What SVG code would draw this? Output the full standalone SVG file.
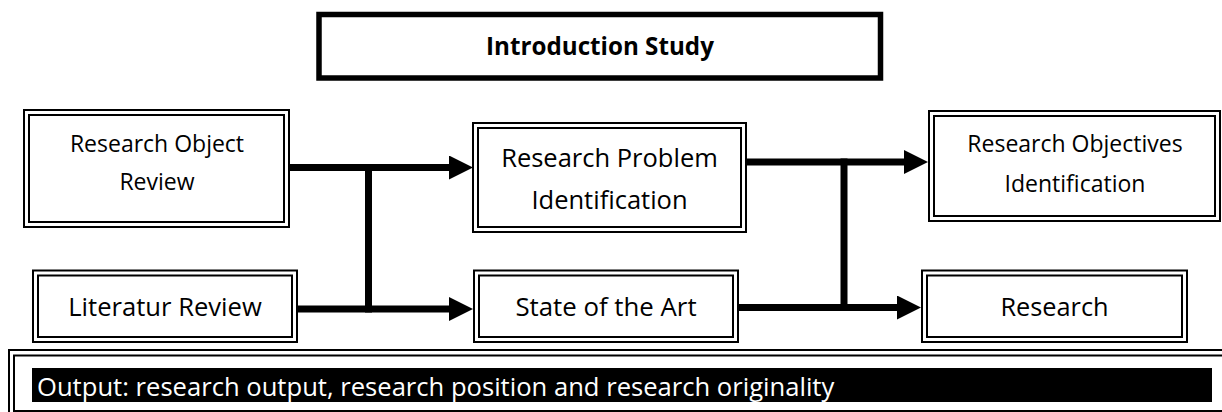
<svg xmlns="http://www.w3.org/2000/svg" width="1222" height="412" viewBox="0 0 1222 412">
<style>
.o{fill:#fff;stroke:#000;stroke-width:2}
.i{fill:none;stroke:#000;stroke-width:2}
.t{font-family:"Open Sans","Liberation Sans",sans-serif;fill:#000;text-anchor:middle}
.c{fill:none;stroke:#000;stroke-width:7}
</style>
<defs>
<marker id="ah" markerUnits="userSpaceOnUse" markerWidth="24" markerHeight="24" refX="0" refY="12" orient="auto" viewBox="0 0 24 24">
<path d="M0,0 L24,12 L0,24 z" fill="#000"/>
</marker>
</defs>
<rect width="1222" height="412" fill="#fff"/>

<g id="intro">
<rect x="319" y="14.5" width="561.5" height="63.5" fill="#fff" stroke="#000" stroke-width="5.5"/>
<text class="t" x="600" y="55" font-size="24.2" font-weight="bold">Introduction Study</text>
</g>

<g id="research-object-review">
<rect class="o" x="24" y="110" width="265" height="117"/>
<rect class="i" x="29" y="115" width="255" height="107"/>
<text class="t" x="157" y="152" font-size="23">Research Object</text>
<text class="t" x="157" y="190" font-size="23">Review</text>
</g>

<g id="research-problem-identification">
<rect class="o" x="473" y="123" width="273" height="109"/>
<rect class="i" x="478" y="128" width="263" height="99"/>
<text class="t" x="609.5" y="167" font-size="25.5">Research Problem</text>
<text class="t" x="609.5" y="209" font-size="25.5">Identification</text>
</g>

<g id="research-objectives-identification">
<rect class="o" x="929" y="111" width="291" height="110"/>
<rect class="i" x="934" y="116" width="281" height="100"/>
<text class="t" x="1075" y="152" font-size="23">Research Objectives</text>
<text class="t" x="1075" y="192" font-size="23">Identification</text>
</g>

<g id="literatur-review">
<rect class="o" x="33" y="270.5" width="264" height="71.5"/>
<rect class="i" x="38" y="275.5" width="254" height="61.5"/>
<text class="t" x="165" y="316" font-size="25.6">Literatur Review</text>
</g>

<g id="state-of-the-art">
<rect class="o" x="474" y="270.5" width="264" height="71.5"/>
<rect class="i" x="479" y="275.5" width="254" height="61.5"/>
<text class="t" x="606" y="316" font-size="25.8">State of the Art</text>
</g>

<g id="research">
<rect class="o" x="922" y="270.5" width="265" height="71.5"/>
<rect class="i" x="927" y="275.5" width="255" height="61.5"/>
<text class="t" x="1054.5" y="316" font-size="25.3">Research</text>
</g>

<g id="output">
<rect class="o" x="9" y="350" width="1225" height="66"/>
<rect class="i" x="14" y="355.5" width="1215" height="55.5"/>
<rect x="32" y="368" width="1180" height="34" fill="#000"/>
<text x="37" y="395.5" font-family="'Open Sans','Liberation Sans',sans-serif" font-size="25.6" fill="#fff">Output: research output, research position and research originality</text>
</g>

<g id="connectors">
<path class="c" d="M290,167.5 H449" marker-end="url(#ah)"/>
<path class="c" d="M298,309 H449" marker-end="url(#ah)"/>
<path class="c" d="M368.5,164 V312.5"/>
<path class="c" d="M747,162 H904" marker-end="url(#ah)"/>
<path class="c" d="M739,307.5 H897" marker-end="url(#ah)"/>
<path class="c" d="M844,158.5 V311"/>
</g>
</svg>
